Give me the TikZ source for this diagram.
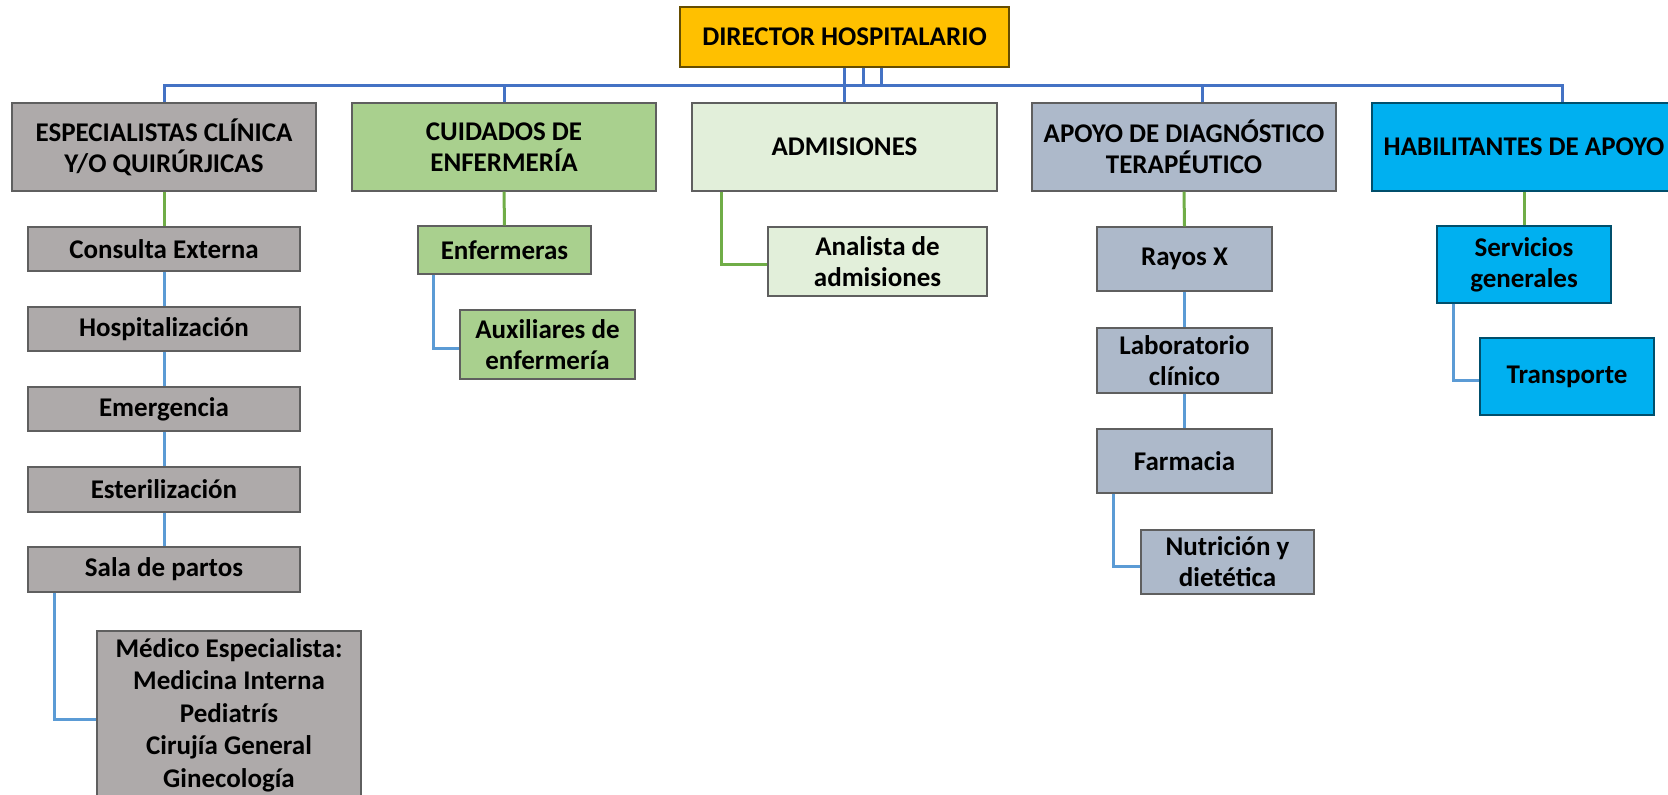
\documentclass[tikz,border=0pt]{standalone}
\usepackage{fontspec}
\setmainfont{Carlito}
\usetikzlibrary{calc}
\definecolor{busblue}{HTML}{4472C4}
\definecolor{subblue}{HTML}{5B9BD5}
\definecolor{lgreen}{HTML}{70AD47}
\definecolor{cgold}{HTML}{FFC000}
\definecolor{cgray}{HTML}{AEAAAA}
\definecolor{cgreen}{HTML}{A9D08E}
\definecolor{cpale}{HTML}{E2EFDA}
\definecolor{cslate}{HTML}{ADB9CA}
\definecolor{ccyan}{HTML}{00B0F0}
\definecolor{bdark}{HTML}{5F5F5F}
\tikzset{
  box/.style={draw=bdark, line width=1.3pt, inner sep=0pt, align=center,
    font=\fontsize{27}{31}\selectfont\bfseries},
  bus/.style={draw=busblue, line width=3pt},
  gline/.style={draw=lgreen, line width=3pt},
  sline/.style={draw=subblue, line width=3pt},
}
\begin{document}
\begin{tikzpicture}[x=1pt,y=-1pt]
\useasboundingbox (0,0) rectangle (1668,795);
% level 0
\node[box, fill=cgold, draw=black!60!cgold, minimum width=329, minimum height=60] (dir) at (844.5,37) {DIRECTOR HOSPITALARIO};
% level 1
\node[box, fill=cgray, minimum width=304, minimum height=88] (esp) at (164,147) {ESPECIALISTAS CLÍNICA\\Y/O QUIRÚRJICAS};
\node[box, fill=cgreen, minimum width=304, minimum height=88] (cui) at (504,147) {CUIDADOS DE\\ENFERMERÍA};
\node[box, fill=cpale, minimum width=305, minimum height=88] (adm) at (844.5,147) {ADMISIONES};
\node[box, fill=cslate, minimum width=304, minimum height=88] (apo) at (1184,147) {APOYO DE DIAGNÓSTICO\\TERAPÉUTICO};
\node[box, fill=ccyan, draw=black!55!ccyan, minimum width=304, minimum height=88] (hab) at (1524,147) {HABILITANTES DE APOYO};
% especialistas column
\node[box, fill=cgray, minimum width=272, minimum height=44] (ce) at (164,249) {Consulta Externa};
\node[box, fill=cgray, minimum width=272, minimum height=44] (hos) at (164,329) {Hospitalización};
\node[box, fill=cgray, minimum width=272, minimum height=44] (eme) at (164,409) {Emergencia};
\node[box, fill=cgray, minimum width=272, minimum height=45] (est) at (164,489.5) {Esterilización};
\node[box, fill=cgray, minimum width=272, minimum height=45] (sal) at (164,569.5) {Sala de partos};
\node[box, fill=cgray, minimum width=264, minimum height=168, font=\fontsize{27}{32.5}\selectfont\bfseries] (med) at (229,715) {Médico Especialista:\\Medicina Interna\\Pediatrís\\Cirujía General\\Ginecología};
% cuidados
\node[box, fill=cgreen, minimum width=173, minimum height=48] (enf) at (504.5,250) {Enfermeras};
\node[box, fill=cgreen, minimum width=175, minimum height=69] (aux) at (547.5,344.5) {Auxiliares de\\enfermería};
% admisiones
\node[box, fill=cpale, minimum width=219, minimum height=69] (ana) at (877.5,261.5) {Analista de\\admisiones};
% apoyo
\node[box, fill=cslate, minimum width=175, minimum height=64] (ray) at (1184.5,259) {Rayos X};
\node[box, fill=cslate, minimum width=175, minimum height=65] (lab) at (1184.5,360.5) {Laboratorio\\clínico};
\node[box, fill=cslate, minimum width=175, minimum height=64] (far) at (1184.5,461) {Farmacia};
\node[box, fill=cslate, minimum width=173, minimum height=64] (nut) at (1227.5,562) {Nutrición y\\dietética};
% habilitantes
\node[box, fill=ccyan, draw=black!55!ccyan, minimum width=174, minimum height=77] (ser) at (1524,264.5) {Servicios\\generales};
\node[box, fill=ccyan, draw=black!55!ccyan, minimum width=174, minimum height=77] (tra) at (1567,376.5) {Transporte};
% bus
\draw[bus] (esp.north) |- ($(hab.north)+(38,-17)$) -- ($(hab.north)+(38,0)$);
\draw[bus] (cui.north) -- ++(0,-17);
\draw[bus] ($(apo.north)+(18,0)$) -- ++(0,-17);
\draw[bus] (dir.south) -- (adm.north);
\draw[bus] ($(dir.south)+(18.5,0)$) -- ++(0,19);
\draw[bus] ($(dir.south)+(36.5,0)$) -- ++(0,19);
% green
\draw[gline] (esp.south) -- (ce.north);
\draw[gline] (cui.south) -- (enf.north);
\draw[gline] ($(adm.south west)+(30,0)$) |- ($(ana.west)+(0,3)$);
\draw[gline] (apo.south) -- (ray.north);
\draw[gline] (hab.south) -- (ser.north);
% sub blue
\draw[sline] (ce) -- (hos);
\draw[sline] (hos) -- (eme);
\draw[sline] (eme) -- (est);
\draw[sline] (est) -- (sal);
\draw[sline] ($(sal.south west)+(27,0)$) |- ($(med.west)+(0,4)$);
\draw[sline] ($(enf.south west)+(16,0)$) |- ($(aux.west)+(0,4)$);
\draw[sline] (ray) -- (lab);
\draw[sline] (lab) -- (far);
\draw[sline] ($(far.south west)+(17,0)$) |- ($(nut.west)+(0,4)$);
\draw[sline] ($(ser.south west)+(17,0)$) |- ($(tra.west)+(0,4)$);
\end{tikzpicture}
\end{document}
